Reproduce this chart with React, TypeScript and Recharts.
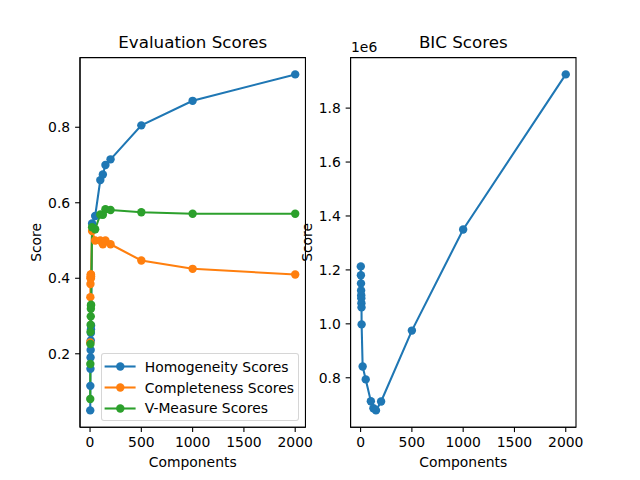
import { LineChart, Line, XAxis, YAxis, ReferenceArea } from "recharts";

// n_components tried, and the scores
const components = [2, 3, 4, 5, 6, 7, 8, 9, 10, 20, 50, 100, 125, 150, 200, 500, 1000, 2000];
const homogeneity = [0.05, 0.115, 0.16, 0.19, 0.21, 0.235, 0.255, 0.265, 0.275, 0.545, 0.565, 0.66, 0.675, 0.7, 0.715, 0.805, 0.87, 0.94];
const completeness = [0.23, 0.35, 0.385, 0.4, 0.405, 0.41, 0.4, 0.41, 0.405, 0.525, 0.5, 0.5, 0.49, 0.5, 0.49, 0.447, 0.425, 0.41];
const vMeasure = [0.08, 0.173, 0.226, 0.258, 0.277, 0.299, 0.319, 0.328, 0.33, 0.535, 0.53, 0.569, 0.568, 0.583, 0.581, 0.575, 0.571, 0.571];
// BIC in units of 1e6
const bic = [1.213, 1.18, 1.15, 1.124, 1.106, 1.095, 1.076, 1.061, 0.998, 0.842, 0.794, 0.713, 0.687, 0.679, 0.712, 0.975, 1.35, 1.925];

const xTicks = [0, 500, 1000, 1500, 2000];
const scoreTicks = [0.2, 0.4, 0.6, 0.8];
const bicTicks = [0.8, 1.0, 1.2, 1.4, 1.6, 1.8];

const series = [
  { key: "h", name: "Homogeneity Scores", color: "#1f77b4" },
  { key: "c", name: "Completeness Scores", color: "#ff7f0e" },
  { key: "v", name: "V-Measure Scores", color: "#2ca02c" },
];

const data = components.map((n, i) => ({
  n,
  h: homogeneity[i],
  c: completeness[i],
  v: vMeasure[i],
  bic: bic[i],
}));

const FONT = "'DejaVu Sans', sans-serif";
const TICK = { fill: "#000", fontSize: 13.9, fontFamily: FONT };
const AX = { stroke: "#000", strokeWidth: 1.1 };

// matplotlib style 5% margins
function padded(vals: number[]): [number, number] {
  const lo = Math.min(...vals);
  const hi = Math.max(...vals);
  const m = (hi - lo) * 0.05;
  return [lo - m, hi + m];
}

const xDomain = padded(components);
const scoreDomain = padded([...homogeneity, ...completeness, ...vMeasure]);
const bicDomain = padded(bic);

const PLOT_TOP = 57.6;
const X_AXIS_H = 480 - 427.2;

const yLabel = (props: any) => {
  const vb = props.viewBox;
  const x = vb.x + vb.width - 44;
  const y = vb.y + vb.height / 2;
  return (
    <text x={x} y={y} transform={`rotate(-90 ${x} ${y})`} textAnchor="middle" dominantBaseline="central" fontSize={13.9} fontFamily={FONT} fill="#000">
      Score
    </text>
  );
};

const xLabel = (props: any) => {
  const vb = props.viewBox;
  return (
    <text x={vb.x + vb.width / 2} y={vb.y + 39.5} textAnchor="middle" fontSize={13.9} fontFamily={FONT} fill="#000">
      Components
    </text>
  );
};

// axes box (matplotlib draws all four spines)
function frame(yDomain: [number, number]) {
  return (
    <ReferenceArea
      x1={xDomain[0]}
      x2={xDomain[1]}
      y1={yDomain[0]}
      y2={yDomain[1]}
      fill="none"
      fillOpacity={0}
      stroke="#000"
      strokeWidth={1.1}
      ifOverflow="visible"
    />
  );
}

export default function App() {
  return (
    <div style={{ position: "absolute", left: 0, top: 0, width: 640, height: 480, background: "#fff", fontFamily: FONT }}>
      <div style={{ position: "absolute", left: 0, top: 0 }}>
        <LineChart width={640} height={480} data={data} margin={{ top: PLOT_TOP, right: 640 - 305.45, bottom: 0, left: 0 }}>
          <XAxis
            dataKey="n"
            type="number"
            domain={xDomain}
            ticks={xTicks}
            allowDataOverflow
            height={X_AXIS_H}
            tick={TICK}
            tickSize={4.9}
            tickMargin={4.9}
            tickLine={AX}
            axisLine={AX}
            label={xLabel}
          />
          <YAxis
            type="number"
            domain={scoreDomain}
            ticks={scoreTicks}
            allowDataOverflow
            width={80}
            tick={TICK}
            tickSize={4.9}
            tickMargin={4.9}
            tickLine={AX}
            axisLine={AX}
            tickFormatter={(v: number) => v.toFixed(1)}
            label={yLabel}
          />
          {frame(scoreDomain)}
          {series.map((s) => (
            <Line
              key={s.key}
              dataKey={s.key}
              name={s.name}
              stroke={s.color}
              strokeWidth={2.08}
              dot={{ r: 4.2, fill: s.color, stroke: s.color, strokeWidth: 0 }}
              activeDot={false}
              isAnimationActive={false}
            />
          ))}
        </LineChart>
      </div>
      <div style={{ position: "absolute", left: 0, top: 0 }}>
        <LineChart width={640} height={480} data={data} margin={{ top: PLOT_TOP, right: 64, bottom: 0, left: 0 }}>
          <XAxis
            dataKey="n"
            type="number"
            domain={xDomain}
            ticks={xTicks}
            allowDataOverflow
            height={X_AXIS_H}
            tick={TICK}
            tickSize={4.9}
            tickMargin={4.9}
            tickLine={AX}
            axisLine={AX}
            label={xLabel}
          />
          <YAxis
            type="number"
            domain={bicDomain}
            ticks={bicTicks}
            allowDataOverflow
            width={350.55}
            tick={TICK}
            tickSize={4.9}
            tickMargin={4.9}
            tickLine={AX}
            axisLine={AX}
            tickFormatter={(v: number) => v.toFixed(1)}
            label={yLabel}
          />
          {frame(bicDomain)}
          <Line
            dataKey="bic"
            stroke="#1f77b4"
            strokeWidth={2.08}
            dot={{ r: 4.2, fill: "#1f77b4", stroke: "#1f77b4", strokeWidth: 0 }}
            activeDot={false}
            isAnimationActive={false}
          />
        </LineChart>
      </div>

      {/* titles and offset text */}
      <div style={{ position: "absolute", left: 80, width: 225.45, top: 32, textAlign: "center", fontSize: 16.7, lineHeight: "20px" }}>
        Evaluation Scores
      </div>
      <div style={{ position: "absolute", left: 350.55, width: 225.45, top: 32, textAlign: "center", fontSize: 16.7, lineHeight: "20px" }}>
        BIC Scores
      </div>
      <div style={{ position: "absolute", left: 351, top: 39, fontSize: 13.9, lineHeight: "16px" }}>1e6</div>

      {/* legend */}
      <div
        style={{
          position: "absolute",
          left: 100.7,
          top: 353.3,
          width: 196.3,
          height: 65.7,
          border: "1px solid rgba(204,204,204,0.8)",
          borderRadius: 3,
          background: "rgba(255,255,255,0.8)",
        }}
      >
        {series.map((s, i) => (
          <div key={s.key} style={{ position: "absolute", left: 0, top: 4 + i * 20.8, height: 17, display: "flex", alignItems: "center" }}>
            <svg width={43} height={17} style={{ display: "block" }}>
              <line x1={2.6} x2={33.6} y1={8.5} y2={8.5} stroke={s.color} strokeWidth={2.08} />
              <circle cx={18.3} cy={8.5} r={4.2} fill={s.color} />
            </svg>
            <span style={{ fontSize: 13.9, whiteSpace: "nowrap" }}>{s.name}</span>
          </div>
        ))}
      </div>
    </div>
  );
}
